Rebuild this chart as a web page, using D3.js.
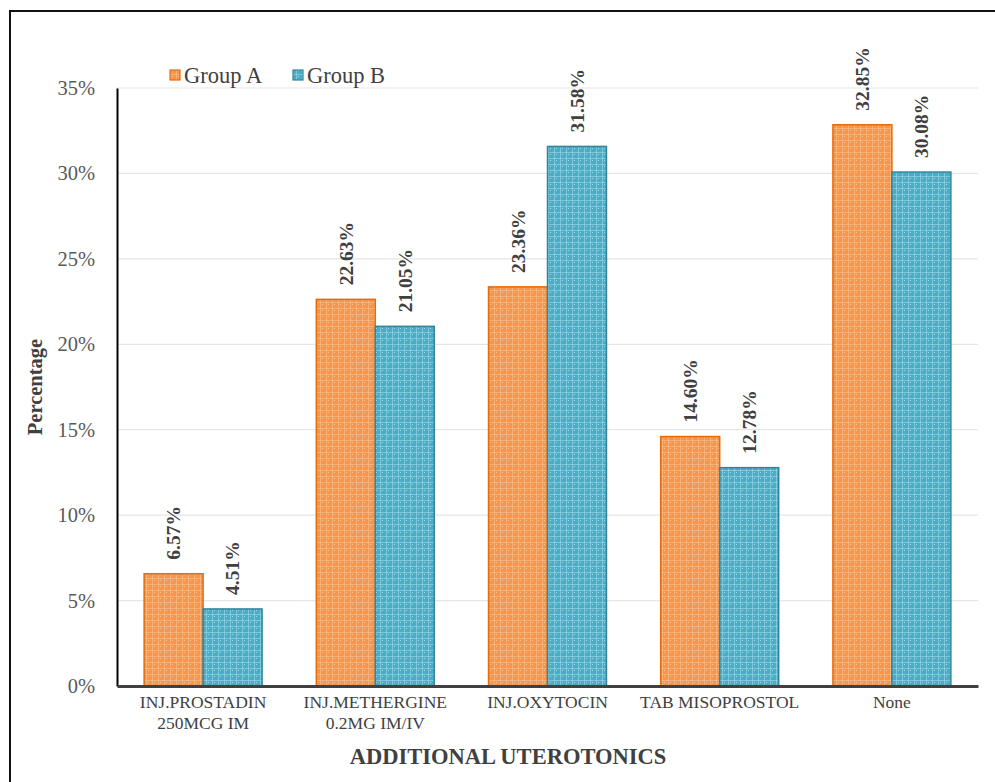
<!DOCTYPE html>
<html>
<head>
<meta charset="utf-8">
<script src="https://cdn.jsdelivr.net/npm/d3@7"></script>
<style>
  html, body { margin: 0; padding: 0; background: #fff; }
  svg { display: block; }
</style>
</head>
<body>
<svg id="chart" width="995" height="782"></svg>
<script>
// Share of patients receiving each additional uterotonic, by group
const categories = [
  ["INJ.PROSTADIN", "250MCG IM"],
  ["INJ.METHERGINE", "0.2MG IM/IV"],
  ["INJ.OXYTOCIN"],
  ["TAB MISOPROSTOL"],
  ["None"]
];
const seriesNames = ["Group A", "Group B"];
const groupA = [6.57, 22.63, 23.36, 14.60, 32.85];
const groupB = [4.51, 21.05, 31.58, 12.78, 30.08];
const yTicks = [0, 5, 10, 15, 20, 25, 30, 35];

const fills = ["#F7954A", "#4BACC6"];
const strokes = ["#E46C0A", "#31859C"];
const dots = ["#FBC49A", "#A5DCEA"];
const serif = "'Liberation Serif', 'Times New Roman', serif";

const svg = d3.select("#chart");
const margin = { left: 117, right: 17, top: 88, bottom: 96 };
const W = 995, H = 782;

// outer frame
svg.append("rect")
  .attr("x", 10).attr("y", 11)
  .attr("width", 1000).attr("height", 800)
  .attr("fill", "none").attr("stroke", "#111").attr("stroke-width", 2);

// textured fills
const defs = svg.append("defs");
fills.forEach((c, i) => {
  const p = defs.append("pattern")
    .attr("id", "pat" + i)
    .attr("patternUnits", "userSpaceOnUse")
    .attr("width", 6).attr("height", 6);
  p.append("rect").attr("width", 6).attr("height", 6).attr("fill", c);
  p.append("rect").attr("x", 0).attr("y", 2).attr("width", 6).attr("height", 1).attr("fill", dots[i]).attr("opacity", 0.55);
  p.append("rect").attr("x", 2).attr("y", 0).attr("width", 1).attr("height", 6).attr("fill", dots[i]).attr("opacity", 0.55);
  p.append("rect").attr("x", 4).attr("y", 4).attr("width", 1).attr("height", 1).attr("fill", dots[i]);
});

const x = d3.scaleBand()
  .domain(d3.range(categories.length))
  .range([margin.left, W - margin.right])
  .paddingInner(0.315)
  .paddingOuter(0.1575);

const y = d3.scaleLinear()
  .domain([0, 35])
  .range([H - margin.bottom, margin.top]);

// gridlines
svg.append("g")
  .selectAll("line")
  .data(yTicks.filter(t => t > 0))
  .join("line")
  .attr("x1", margin.left).attr("x2", W - margin.right)
  .attr("y1", d => y(d)).attr("y2", d => y(d))
  .attr("stroke", "#e6e6e6").attr("stroke-width", 1.2);

// y axis
const yAxis = d3.axisLeft(y).tickValues(yTicks).tickFormat(d => d + "%").tickSize(0).tickPadding(22);
const gy = svg.append("g").attr("transform", `translate(${margin.left},0)`).call(yAxis);
gy.select(".domain").attr("stroke", "#000").attr("stroke-width", 2);
gy.selectAll("text")
  .attr("font-family", serif)
  .attr("font-size", 20.5).attr("fill", "#595959");

// bars
const sub = d3.scaleBand().domain([0, 1]).range([0, x.bandwidth()]);
const series = [groupA, groupB];
series.forEach((vals, si) => {
  svg.append("g").selectAll("rect")
    .data(vals)
    .join("rect")
    .attr("x", (d, i) => x(i) + sub(si))
    .attr("y", d => y(d))
    .attr("width", sub.bandwidth())
    .attr("height", d => y(0) - y(d))
    .attr("fill", `url(#pat${si})`)
    .attr("stroke", strokes[si]).attr("stroke-width", 1.5);
});

// value labels
series.forEach((vals, si) => {
  svg.append("g").selectAll("text")
    .data(vals)
    .join("text")
    .attr("transform", (d, i) => `translate(${x(i) + sub(si) + sub.bandwidth() / 2},${y(d) - 14}) rotate(-90)`)
    .attr("dy", "0.35em")
    .attr("text-anchor", "start")
    .attr("font-family", serif)
    .attr("font-weight", "bold")
    .attr("font-size", 19.5)
    .attr("fill", "#404040")
    .text(d => d.toFixed(2) + "%");
});

// x axis
const xAxis = d3.axisBottom(x).tickSize(0).tickFormat(() => "");
const gx = svg.append("g").attr("transform", `translate(0,${y(0)})`).call(xAxis);
gx.select(".domain").attr("stroke", "#404040").attr("stroke-width", 3);
gx.selectAll(".tick").each(function(d) {
  const t = d3.select(this).append("text")
    .attr("font-family", serif)
    .attr("font-size", 17.5).attr("fill", "#404040")
    .attr("text-anchor", "middle");
  categories[d].forEach((line, k) => {
    t.append("tspan").attr("x", 0).attr("y", 22 + k * 21).text(line);
  });
});

// axis titles
svg.append("text")
  .attr("x", 508).attr("y", 764)
  .attr("text-anchor", "middle")
  .attr("font-family", serif)
  .attr("font-weight", "bold").attr("font-size", 22.5).attr("fill", "#404040")
  .text("ADDITIONAL UTEROTONICS");

svg.append("text")
  .attr("transform", `translate(42,${(margin.top + H - margin.bottom) / 2}) rotate(-90)`)
  .attr("text-anchor", "middle")
  .attr("font-family", serif)
  .attr("font-weight", "bold").attr("font-size", 20.5).attr("fill", "#404040")
  .text("Percentage");

// legend
const legendX = [170, 293];
const lg = svg.append("g");
seriesNames.forEach((name, i) => {
  lg.append("rect")
    .attr("x", legendX[i]).attr("y", 70)
    .attr("width", 10).attr("height", 10)
    .attr("fill", `url(#pat${i})`)
    .attr("stroke", strokes[i]).attr("stroke-width", 1.2);
  lg.append("text")
    .attr("x", legendX[i] + 14).attr("y", 83)
    .attr("font-family", serif)
    .attr("font-size", 22.5).attr("fill", "#404040")
    .text(name);
});
</script>
</body>
</html>
